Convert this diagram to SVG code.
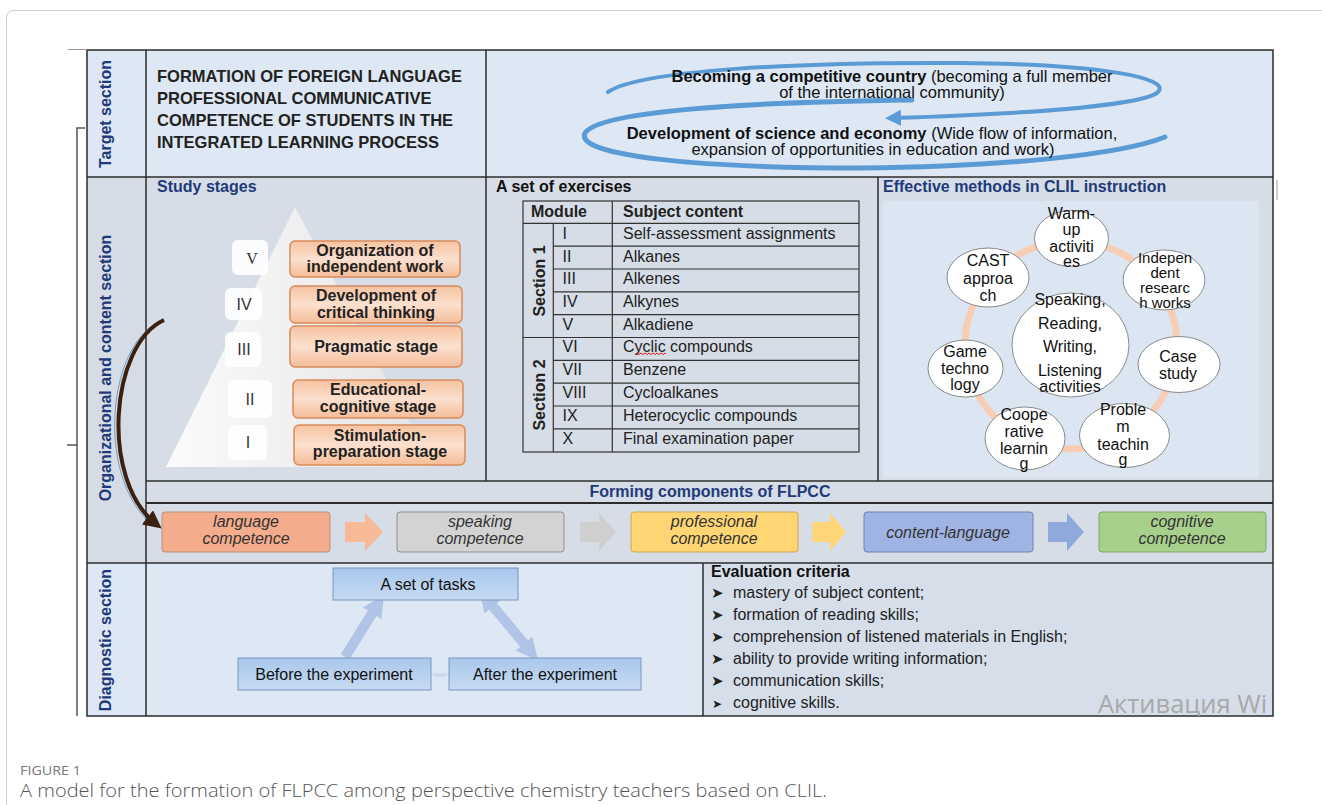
<svg xmlns="http://www.w3.org/2000/svg" width="1322" height="805" viewBox="0 0 1322 805">
<defs>
<style>
text{font-family:"Liberation Sans",Arial,sans-serif;}
.lbl{font-size:16px;font-weight:bold;fill:#1f3a7a;text-anchor:middle;}
.hd{font-size:16px;font-weight:bold;fill:#1f3a7a;}
.tt{font-size:16.5px;font-weight:bold;fill:#222;}
.goal{font-size:16.5px;fill:#111;text-anchor:middle;}
.st{font-size:16px;font-weight:bold;fill:#222;text-anchor:middle;}
.rn{font-size:16px;fill:#333;text-anchor:middle;}
.tb{font-size:16px;fill:#222;}
.tbh{font-size:16px;fill:#222;font-weight:bold;}
.me{font-size:16px;fill:#111;text-anchor:middle;}
.comp{font-size:16px;font-style:italic;fill:#333;text-anchor:middle;}
.dg{font-size:16px;fill:#111;text-anchor:middle;}
.ev{font-size:16px;fill:#222;}
.bul{font-size:15px;fill:#222;font-family:"DejaVu Sans",sans-serif;}
.grid{stroke:#2b2b2b;stroke-width:1.5;fill:none;}
.thin{stroke:#333;stroke-width:1.2;fill:none;}
.stage{fill:url(#gOr);stroke:#d98b5c;stroke-width:1.5;}
.rbox{fill:#ffffff;opacity:0.9;}
.meth{fill:#ffffff;stroke:#8a8a8a;stroke-width:1;}
.dbox{fill:url(#gBl);stroke:#7896c0;stroke-width:1;}
.swirl{fill:none;stroke:#5b9bd5;stroke-linecap:round;}
</style>
<linearGradient id="gOr" x1="0" y1="0" x2="0" y2="1">
<stop offset="0" stop-color="#f6c2a0"/><stop offset="0.5" stop-color="#fbe0cf"/><stop offset="1" stop-color="#f5bd98"/>
</linearGradient>
<linearGradient id="gTri" x1="0" y1="0" x2="1" y2="0">
<stop offset="0" stop-color="#fbfbfb"/><stop offset="1" stop-color="#e4e4e4"/>
</linearGradient>
<linearGradient id="gBl" x1="0" y1="0" x2="0" y2="1">
<stop offset="0" stop-color="#a9c8ec"/><stop offset="1" stop-color="#c6daf2"/>
</linearGradient>
<marker id="mBrown" viewBox="0 0 10 10" refX="6" refY="5" markerWidth="4.5" markerHeight="4.5" orient="auto">
<path d="M0 0 L10 5 L0 10 z" fill="#3b2110"/>
</marker>
<marker id="mBlue" viewBox="0 0 10 10" refX="5" refY="5" markerWidth="4" markerHeight="4" orient="auto">
<path d="M0 0 L10 5 L0 10 z" fill="#5b9bd5"/>
</marker>
<marker id="mLb" viewBox="0 0 10 10" refX="5" refY="5" markerWidth="2.2" markerHeight="2.2" orient="auto-start-reverse">
<path d="M0 0 L10 5 L0 10 z" fill="#afc4e6"/>
</marker>
<clipPath id="clipEv"><rect x="703" y="563" width="570" height="153"/></clipPath>
</defs>

<!-- page frame -->
<path d="M1322 10.5 H14 Q6.5 10.5 6.5 18 V805" fill="none" stroke="#cfcfcf" stroke-width="1"/>

<!-- backgrounds -->
<g id="backgrounds">
<rect x="87" y="50" width="1186" height="127" fill="#dde8f4"/>
<rect x="87" y="177" width="59" height="386" fill="#d6dce5"/>
<rect x="146" y="177" width="1127" height="386" fill="#d6dde6"/>
<rect x="883" y="201" width="376" height="276" fill="#dce6f2"/>
<rect x="87" y="563" width="616" height="153" fill="#dde8f4"/>
<rect x="703" y="563" width="570" height="153" fill="#d6deea"/>
</g>

<!-- grid lines -->
<g id="grid">
<rect x="87" y="50" width="1186" height="666" class="grid"/>
<line x1="146" y1="50" x2="146" y2="716" class="grid"/>
<line x1="87" y1="177" x2="1273" y2="177" class="grid"/>
<line x1="486" y1="50" x2="486" y2="481" class="grid"/>
<line x1="878" y1="177" x2="878" y2="481" class="grid"/>
<line x1="146" y1="481" x2="1273" y2="481" class="grid"/>
<line x1="146" y1="503" x2="1273" y2="503" stroke="#2b2b2b" stroke-width="2"/>
<line x1="87" y1="563" x2="1273" y2="563" class="grid"/>
<line x1="703" y1="563" x2="703" y2="716" class="grid"/>
<line x1="1277" y1="180" x2="1277" y2="200" stroke="#9a9a9a" stroke-width="1"/>
</g>

<!-- bracket -->
<g id="bracket" fill="none" stroke="#555" stroke-width="1.5">
<line x1="68" y1="49.5" x2="87" y2="49.5" stroke="#999" stroke-width="1"/>
<path d="M85 128 H77 V716"/>
<path d="M77 445 H67"/>
</g>

<!-- section labels -->
<g id="section-labels">
<text class="lbl" transform="translate(111,114) rotate(-90)">Target section</text>
<text class="lbl" transform="translate(111,368) rotate(-90)">Organizational and content section</text>
<text class="lbl" transform="translate(111,640) rotate(-90)">Diagnostic section</text>
</g>

<!-- target title -->
<g id="title">
<text class="tt" x="157" y="82">FORMATION OF FOREIGN LANGUAGE</text>
<text class="tt" x="157" y="104">PROFESSIONAL COMMUNICATIVE</text>
<text class="tt" x="157" y="126">COMPETENCE OF STUDENTS IN THE</text>
<text class="tt" x="157" y="148">INTEGRATED LEARNING PROCESS</text>
</g>

<!-- goals with swirl arrows -->
<g id="goals">
<path class="swirl" stroke-width="4" d="M608 92 C640 70, 800 62, 960 63 C1100 64, 1172 78, 1158 92 C1146 104, 1050 113, 893 118" marker-end="url(#mBlue)"/>
<path class="swirl" stroke-width="5" d="M912 100 C760 102, 600 110, 585 133 C574 156, 700 168, 860 168 C1000 167, 1120 155, 1165 137"/>
<text class="goal" x="892" y="82"><tspan font-weight="bold">Becoming a competitive country</tspan> (becoming a full member</text>
<text class="goal" x="892" y="98">of the international community)</text>
<text class="goal" x="872" y="139"><tspan font-weight="bold">Development of science and economy</tspan> (Wide flow of information,</text>
<text class="goal" x="873" y="155">expansion of opportunities in education and work)</text>
</g>

<!-- study stages -->
<g id="study-stages">
<text class="hd" x="157" y="192">Study stages</text>
<polygon points="295,207 166,467 433,467" fill="url(#gTri)"/>
<rect class="rbox" x="232" y="240" width="36" height="35" rx="6"/>
<rect class="rbox" x="225" y="288" width="37" height="32" rx="6"/>
<rect class="rbox" x="225" y="332" width="36" height="35" rx="6" opacity="0.6"/>
<rect class="rbox" x="228" y="380" width="44" height="38" rx="6"/>
<rect class="rbox" x="228" y="425" width="39" height="35" rx="6"/>
<text class="rn" x="252" y="264" style="font-family:'Liberation Serif',serif">V</text>
<text class="rn" x="244" y="310">IV</text>
<text class="rn" x="244" y="355">III</text>
<text class="rn" x="250" y="405">II</text>
<text class="rn" x="248" y="448">I</text>
<g id="stage5"><rect class="stage" x="290" y="241" width="170" height="36" rx="5"/>
<text class="st" x="375" y="256">Organization of</text><text class="st" x="375" y="272">independent work</text></g>
<g id="stage4"><rect class="stage" x="290" y="286" width="172" height="37" rx="5"/>
<text class="st" x="376" y="301">Development of</text><text class="st" x="376" y="318">critical thinking</text></g>
<g id="stage3"><rect class="stage" x="290" y="326" width="172" height="41" rx="5"/>
<text class="st" x="376" y="352">Pragmatic stage</text></g>
<g id="stage2"><rect class="stage" x="293" y="380" width="170" height="38" rx="5"/>
<text class="st" x="378" y="395">Educational-</text><text class="st" x="378" y="412">cognitive stage</text></g>
<g id="stage1"><rect class="stage" x="294" y="425" width="171" height="40" rx="5"/>
<text class="st" x="380" y="441">Stimulation-</text><text class="st" x="380" y="457">preparation stage</text></g>
</g>

<!-- exercises table -->
<g id="exercises">
<text x="496" y="192" style="font-size:16px;font-weight:bold;fill:#111">A set of exercises</text>
<rect x="523" y="201" width="336" height="251" class="thin"/>
<line x1="523" y1="223.3" x2="859" y2="223.3" class="thin"/>
<line x1="553.3" y1="223.3" x2="553.3" y2="452" class="thin"/>
<line x1="612.3" y1="201" x2="612.3" y2="452" class="thin"/>
<line x1="523" y1="337.5" x2="859" y2="337.5" class="thin"/>
<g class="thin">
<line x1="553.3" y1="246.2" x2="859" y2="246.2"/>
<line x1="553.3" y1="269" x2="859" y2="269"/>
<line x1="553.3" y1="291.8" x2="859" y2="291.8"/>
<line x1="553.3" y1="314.7" x2="859" y2="314.7"/>
<line x1="553.3" y1="360.3" x2="859" y2="360.3"/>
<line x1="553.3" y1="383.2" x2="859" y2="383.2"/>
<line x1="553.3" y1="406" x2="859" y2="406"/>
<line x1="553.3" y1="428.8" x2="859" y2="428.8"/>
</g>
<text class="tbh" x="531" y="217">Module</text>
<text class="tbh" x="623" y="217">Subject content</text>
<text class="tbh" text-anchor="middle" transform="translate(545,281) rotate(-90)">Section 1</text>
<text class="tbh" text-anchor="middle" transform="translate(545,395) rotate(-90)">Section 2</text>
<text class="tb" x="562.5" y="238.5">I</text><text class="tb" x="623" y="238.5">Self-assessment assignments</text>
<text class="tb" x="562.5" y="261.5">II</text><text class="tb" x="623" y="261.5">Alkanes</text>
<text class="tb" x="562.5" y="284">III</text><text class="tb" x="623" y="284">Alkenes</text>
<text class="tb" x="562.5" y="306.8">IV</text><text class="tb" x="623" y="306.8">Alkynes</text>
<text class="tb" x="562.5" y="329.5">V</text><text class="tb" x="623" y="329.5">Alkadiene</text>
<text class="tb" x="562.5" y="352.2">VI</text><text class="tb" x="623" y="352.2">Cyclic compounds</text>
<path d="M635 354.5 l2 -1.5 l2 1.5 l2 -1.5 l2 1.5 l2 -1.5 l2 1.5 l2 -1.5 l2 1.5 l2 -1.5 l2 1.5 l2 -1.5 l2 1.5 l2 -1.5 l2 1.5 l2 -1.5 l1 1" fill="none" stroke="#e02020" stroke-width="1"/>
<text class="tb" x="562.5" y="375">VII</text><text class="tb" x="623" y="375">Benzene</text>
<text class="tb" x="562.5" y="398">VIII</text><text class="tb" x="623" y="398">Cycloalkanes</text>
<text class="tb" x="562.5" y="420.8">IX</text><text class="tb" x="623" y="420.8">Heterocyclic compounds</text>
<text class="tb" x="562.5" y="443.6">X</text><text class="tb" x="623" y="443.6">Final examination paper</text>
</g>

<!-- methods -->
<g id="methods">
<text class="hd" x="883" y="192">Effective methods in CLIL instruction</text>
<ellipse cx="1071" cy="345" rx="106" ry="104" fill="none" stroke="#f7cdb6" stroke-width="7"/>
<g id="m-warmup"><ellipse class="meth" cx="1071.5" cy="238.5" rx="37" ry="28"/>
<text class="me" x="1071.5" y="219">Warm-</text><text class="me" x="1071.5" y="235">up</text><text class="me" x="1071.5" y="252">activiti</text><text class="me" x="1071.5" y="267">es</text></g>
<g id="m-indep"><ellipse class="meth" cx="1164" cy="280" rx="41" ry="30"/>
<text class="me" x="1165" y="263" style="font-size:15px">Indepen</text><text class="me" x="1165" y="277.5" style="font-size:15px">dent</text><text class="me" x="1165" y="292.5" style="font-size:15px">researc</text><text class="me" x="1165" y="307.5" style="font-size:15px">h works</text></g>
<g id="m-case"><ellipse class="meth" cx="1179" cy="364.5" rx="41" ry="28"/>
<text class="me" x="1178" y="362">Case</text><text class="me" x="1178" y="378.5">study</text></g>
<g id="m-problem"><ellipse class="meth" cx="1124.5" cy="435.5" rx="45" ry="32"/>
<text class="me" x="1123" y="415">Proble</text><text class="me" x="1123" y="432">m</text><text class="me" x="1123" y="450">teachin</text><text class="me" x="1123" y="465">g</text></g>
<g id="m-coop"><ellipse class="meth" cx="1025" cy="438.5" rx="40" ry="31.5"/>
<text class="me" x="1024" y="420">Coope</text><text class="me" x="1024" y="437">rative</text><text class="me" x="1024" y="453.5">learnin</text><text class="me" x="1024" y="468.5">g</text></g>
<g id="m-game"><ellipse class="meth" cx="965.5" cy="368.5" rx="37.5" ry="28.5"/>
<text class="me" x="965" y="357">Game</text><text class="me" x="965" y="373.5">techno</text><text class="me" x="965" y="390">logy</text></g>
<g id="m-cast"><ellipse class="meth" cx="988" cy="277.5" rx="41" ry="29.5"/>
<text class="me" x="988" y="266">CAST</text><text class="me" x="988" y="283.5">approa</text><text class="me" x="988" y="301">ch</text></g>
<g id="m-center"><ellipse class="meth" cx="1070.5" cy="345" rx="58.5" ry="52"/>
<text class="me" x="1070" y="305">Speaking,</text><text class="me" x="1070" y="328.5">Reading,</text><text class="me" x="1070" y="352">Writing,</text><text class="me" x="1070" y="375.5">Listening</text><text class="me" x="1070" y="392">activities</text></g>
</g>

<!-- connectors -->
<g id="connectors">
<path d="M161 321 C108 346, 98 480, 156 525" fill="none" stroke="#6f9bc8" stroke-width="1" transform="translate(-2,1)"/>
<path d="M164 320 C110 345, 100 480, 156 524" fill="none" stroke="#3b2110" stroke-width="4" marker-end="url(#mBrown)"/>
<polygon points="345,522 365,522 365,513 383,532 365,551 365,542 345,542" fill="#f8b999"/>
<polygon points="580,522 599,522 599,513 616,532 599,551 599,542 580,542" fill="#cfcfcf"/>
<polygon points="812,522 830,522 830,513 846,532 830,551 830,542 812,542" fill="#fed67a"/>
<polygon points="1048,522 1067,522 1067,513 1084,532 1067,551 1067,542 1048,542" fill="#8fa9dc"/>
<line x1="345" y1="657" x2="378" y2="604" stroke="#afc4e6" stroke-width="10" marker-end="url(#mLb)"/>
<line x1="486" y1="598" x2="531" y2="652" stroke="#afc4e6" stroke-width="10" marker-start="url(#mLb)" marker-end="url(#mLb)"/>
<line x1="433" y1="675" x2="447" y2="675" stroke="#c9d7ec" stroke-width="3"/>
</g>

<!-- forming components -->
<g id="components">
<text class="hd" x="710" y="497" text-anchor="middle">Forming components of FLPCC</text>
<g id="c-language"><rect x="162" y="512" width="168" height="40" rx="3" fill="#f5ac8c" stroke="#b9917e" stroke-width="1"/>
<text class="comp" x="246" y="527">language</text><text class="comp" x="246" y="544">competence</text></g>
<g id="c-speaking"><rect x="397" y="512" width="167" height="40" rx="3" fill="#d3d3d3" stroke="#8f8f8f" stroke-width="1"/>
<text class="comp" x="480" y="527">speaking</text><text class="comp" x="480" y="544">competence</text></g>
<g id="c-professional"><rect x="631" y="512" width="167" height="40" rx="3" fill="#ffd673" stroke="#c9a95a" stroke-width="1"/>
<text class="comp" x="714" y="527">professional</text><text class="comp" x="714" y="544">competence</text></g>
<g id="c-content"><rect x="864" y="512" width="169" height="40" rx="3" fill="#9fb4e3" stroke="#6e83ad" stroke-width="1"/>
<text class="comp" x="948" y="538">content-language</text></g>
<g id="c-cognitive"><rect x="1099" y="512" width="167" height="40" rx="3" fill="#a8d08d" stroke="#7fa468" stroke-width="1"/>
<text class="comp" x="1182" y="527">cognitive</text><text class="comp" x="1182" y="544">competence</text></g>
</g>

<!-- diagnostic -->
<g id="diagnostic">
<g id="d-tasks"><rect class="dbox" x="333" y="568" width="185" height="32"/>
<text class="dg" x="428" y="590">A set of tasks</text></g>
<g id="d-before"><rect class="dbox" x="238" y="658" width="193" height="32"/>
<text class="dg" x="334" y="680">Before the experiment</text></g>
<g id="d-after"><rect class="dbox" x="449" y="658" width="192" height="32"/>
<text class="dg" x="545" y="680">After the experiment</text></g>
</g>

<!-- evaluation -->
<g id="evaluation">
<text x="711" y="577" style="font-size:16px;font-weight:bold;fill:#111">Evaluation criteria</text>
<text class="bul" x="711" y="598">➤</text><text class="ev" x="733" y="598">mastery of subject content;</text>
<text class="bul" x="711" y="620">➤</text><text class="ev" x="733" y="620">formation of reading skills;</text>
<text class="bul" x="711" y="642">➤</text><text class="ev" x="733" y="642">comprehension of listened materials in English;</text>
<text class="bul" x="711" y="664">➤</text><text class="ev" x="733" y="664">ability to provide writing information;</text>
<text class="bul" x="711" y="686">➤</text><text class="ev" x="733" y="686">communication skills;</text>
<text class="bul" x="712" y="708" style="font-size:12px">➤</text><text class="ev" x="733" y="708">cognitive skills.</text>
<text x="1098" y="713" clip-path="url(#clipEv)" style="font-family:'Open Sans','Noto Sans',sans-serif;font-size:25.5px;fill:#a9a9a9">Активация Wi</text>
</g>

<!-- caption -->
<g id="caption">
<text x="20" y="775" style="font-family:'Open Sans','Noto Sans',sans-serif;font-size:13px;fill:#777" textLength="61" lengthAdjust="spacingAndGlyphs">FIGURE 1</text>
<text x="20" y="797" style="font-family:'Open Sans','Noto Sans',sans-serif;font-size:18px;font-weight:300;fill:#555" textLength="807" lengthAdjust="spacingAndGlyphs">A model for the formation of FLPCC among perspective chemistry teachers based on CLIL.</text>
</g>
</svg>
